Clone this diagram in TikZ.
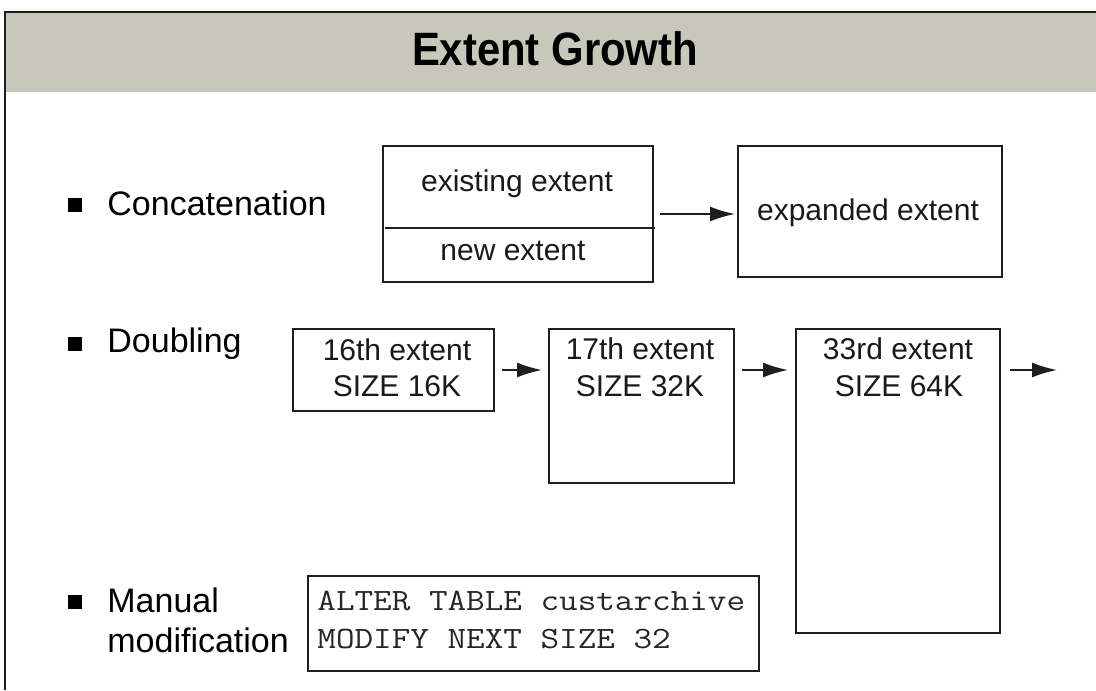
\documentclass[tikz,border=0pt]{standalone}
\usepackage{graphicx}
\usepackage{fontspec}
\setmainfont{Liberation Sans}
\usetikzlibrary{arrows.meta}
\definecolor{hdr}{RGB}{200,200,186}
\definecolor{ln}{RGB}{30,30,30}
\newcommand{\monotxt}[1]{\scalebox{1.165}[1]{#1}}
\begin{document}
\begin{tikzpicture}[x=0.5pt,y=-0.5pt,
  box/.style={draw=ln, line width=1pt, inner sep=0pt, anchor=north west},
  body/.style={font=\fontsize{15}{18}\selectfont, text=black!90, inner sep=0pt, anchor=base},
  lab/.style={font=\fontsize{17}{20}\selectfont, text=black, inner sep=0pt, anchor=base west},
  mono/.style={font=\ttfamily\fontsize{15.5}{18}\selectfont, text=black!85, inner sep=0pt, anchor=base west},
  arr/.style={-{Latex[length=12.5pt,width=7.5pt]}, line width=0.9pt, draw=ln},
  bul/.style={fill=black, minimum size=7pt, inner sep=0pt}]
\useasboundingbox (0,0) rectangle (1096,690);
% frame and header
\fill[white] (0,0) rectangle (1096,690);
\fill[hdr] (5,12) rectangle (1096,92);
\draw[ln, line width=1pt] (5,690) -- (5,12) -- (1096,12);
\node[font=\bfseries\fontsize{22.5}{26}\selectfont, inner sep=0pt, anchor=base] (title) at (555,66) {\scalebox{0.93}[1.04]{Extent Growth}};

% bullets and labels
\node[bul] (bu1) at (75,205) {};
\node[lab] (l1) at (107,215) {Concatenation};
\node[bul] (bu2) at (75,344) {};
\node[lab] (l2) at (107,352) {Doubling};
\node[bul] (bu3) at (75,602) {};
\node[lab] (l3a) at (107,612) {Manual};
\node[lab] (l3b) at (107,652) {modification};

% concatenation
\node[box, minimum width=135pt, minimum height=68pt] (cat) at (382,145) {};
\draw[ln, line width=1pt] (385,228) -- (655,228);
\node[body] (t1) at (517,191) {existing extent};
\node[body] (t2) at (513,260) {new extent};
\node[box, minimum width=132pt, minimum height=65.5pt] (exp) at (737,145) {};
\node[body] (t3) at (868,220) {expanded extent};
\draw[arr] ([xshift=3pt]cat.east) -- ([xshift=-1pt]cat.east -| exp.west);

% doubling
\node[box, minimum width=100.5pt, minimum height=41pt] (b16) at (292,328) {};
\node[body] (t16a) at (397,360) {16th extent};
\node[body] (t16b) at (397,396) {SIZE 16K};
\node[box, minimum width=92.5pt, minimum height=77pt] (b17) at (548,328) {};
\node[body] (t17a) at (640,359) {17th extent};
\node[body] (t17b) at (640,396) {SIZE 32K};
\node[box, minimum width=102pt, minimum height=152pt] (b33) at (795,328) {};
\node[body] (t33a) at (898,359) {33rd extent};
\node[body] (t33b) at (899,396) {SIZE 64K};
\coordinate (nxt) at (1057,370);
\draw[arr] ([xshift=3.5pt]b16.east |- nxt) -- ([xshift=-3pt]b17.west |- nxt);
\draw[arr] ([xshift=3.5pt]b17.east |- nxt) -- ([xshift=-3.5pt]b33.west |- nxt);
\draw[arr] ([xshift=4.5pt]b33.east |- nxt) -- (nxt);

% manual modification
\node[box, minimum width=225.5pt, minimum height=47.5pt] (alt) at (307,575) {};
\node[mono] (m1) at (317,610) {\monotxt{ALTER TABLE custarchive}};
\node[mono] (m2) at (317,648) {\monotxt{MODIFY NEXT SIZE 32}};
\end{tikzpicture}
\end{document}
